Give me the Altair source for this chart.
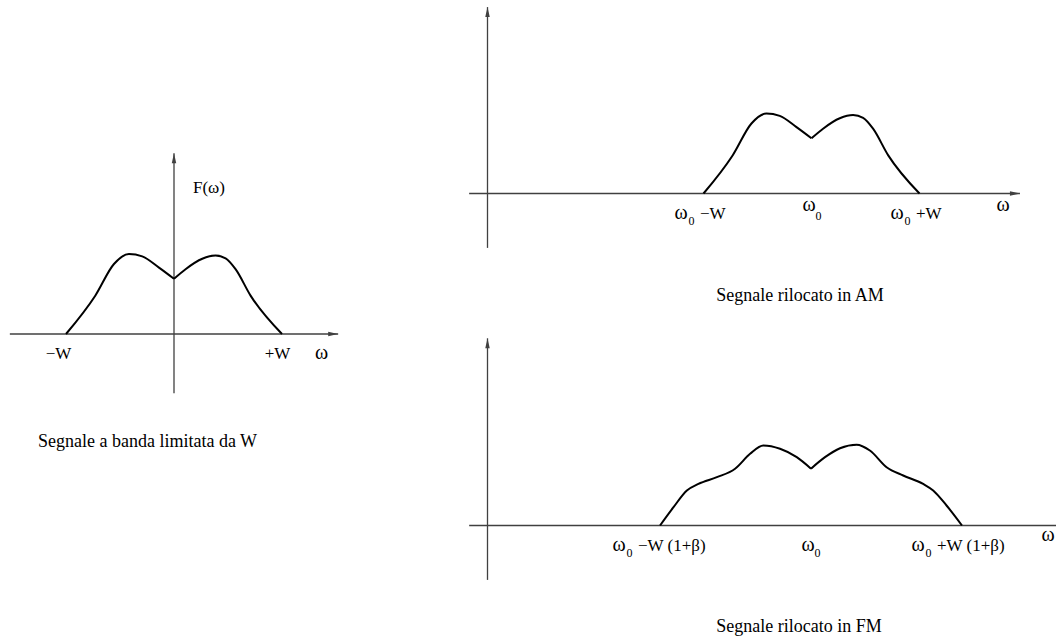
import altair as alt
import pandas as pd

# ---------------- data ----------------
# Baseband spectrum F(w): w in units of W, amplitude normalised to the peak
BASE_W = [-1.0, -0.729, -0.556, -0.417, -0.294, -0.139, 0.0,
          0.107, 0.262, 0.385, 0.478, 0.57, 0.709, 1.0]
BASE_A = [0.0, 0.479, 0.875, 1.0, 0.97, 0.83, 0.69,
          0.81, 0.94, 0.98, 0.945, 0.81, 0.48, 0.0]

# FM spectrum around w0 (offset from w0 in units of W)
BETA = 0.4
FM_W = [-1.4, -1.275, -1.151, -1.044, -0.873, -0.704, -0.565, -0.442, -0.287, -0.132, 0.0,
        0.13, 0.269, 0.423, 0.546, 0.701, 0.855, 1.04, 1.133, 1.257, 1.4]
FM_A = [0.0, 0.229, 0.4375, 0.52, 0.604, 0.71, 0.896, 1.0, 0.959, 0.854, 0.71,
        0.854, 0.966, 1.01, 0.9375, 0.729, 0.625, 0.52, 0.4375, 0.25, 0.0]

OMEGA0 = 3.0  # carrier, in units of W

# axis extents (data units): [x_min, x_max], [y_min, y_max]
LEFT_AXES = ([-1.52, 1.52], [-0.74, 2.26])
AM_AXES = ([-0.17, 4.93], [-0.68, 2.33])
FM_AXES = ([-0.17, 5.7], [-0.68, 2.34])

# texts
LEFT_TICKS = ["\u2212W", "+W"]
AM_TICKS = ["\u2212W", "+W"]
FM_TICKS = ["\u2212W (1+\u03b2)", "+W (1+\u03b2)"]
OMEGA = "\u03c9"
SUB0 = "0"
F_LABEL = "F(\u03c9)"
CAPTIONS = ["Segnale a banda limitata da W", "Segnale rilocato in AM", "Segnale rilocato in FM"]

# ---------------- helpers ----------------
FONT = "Liberation Serif"
AX_COLOR = "#404040"
LBL = 17
OMG = 20
SUB = 12
CAP = 18

UP = "M0,0 L0.45,2 L-0.45,2 Z"
RIGHT = "M0,0 L-2,0.45 L-2,-0.45 Z"


def enc(xs, ys, xf="x", yf="y"):
    return dict(x=alt.X(f"{xf}:Q", scale=xs, axis=None),
                y=alt.Y(f"{yf}:Q", scale=ys, axis=None))


def axes(xs, ys, ext, right_arrow=True):
    (x0, x1), (y0, y1) = ext
    h = alt.Chart(pd.DataFrame({"x": [x0], "x2": [x1], "y": [0.0]})).mark_rule(
        color=AX_COLOR, strokeWidth=1.3).encode(x2="x2:Q", **enc(xs, ys))
    v = alt.Chart(pd.DataFrame({"x": [0.0], "y": [y0], "y2": [y1]})).mark_rule(
        color=AX_COLOR, strokeWidth=1.3).encode(y2="y2:Q", **enc(xs, ys))
    up = alt.Chart(pd.DataFrame({"x": [0.0], "y": [y1]})).mark_point(
        shape=UP, filled=True, size=100, color=AX_COLOR, opacity=1, strokeWidth=0).encode(**enc(xs, ys))
    layers = [h, v, up]
    if right_arrow:
        rt = alt.Chart(pd.DataFrame({"x": [x1], "y": [0.0]})).mark_point(
            shape=RIGHT, filled=True, size=100, color=AX_COLOR, opacity=1, strokeWidth=0).encode(**enc(xs, ys))
        layers.append(rt)
    return layers


def curve(xs, ys, w, a, shift=0.0):
    mid = [i for i, v in enumerate(w) if v == 0.0][0]
    rows = []
    for i in range(len(w)):
        if i <= mid:
            rows.append({"x": w[i] + shift, "y": a[i], "half": "L"})
        if i >= mid:
            rows.append({"x": w[i] + shift, "y": a[i], "half": "R"})
    df = pd.DataFrame(rows)
    return alt.Chart(df).mark_line(color="black", strokeWidth=2, interpolate="monotone").encode(
        detail="half:N", **enc(xs, ys))


def label(xs, ys, xv, yv, text, dx, dy, size=LBL, align="center"):
    df = pd.DataFrame({"x": [xv], "y": [yv], "t": [text]})
    return alt.Chart(df).mark_text(font=FONT, fontSize=size, align=align, baseline="alphabetic",
                                   dx=dx, dy=dy, color="black").encode(text="t:N", **enc(xs, ys))


layers = []

# ---------------- left panel: baseband ----------------
lx = alt.Scale(domain=[-1, 1], range=[66, 282])
ly = alt.Scale(domain=[0, 1], range=[334, 254])
layers += axes(lx, ly, LEFT_AXES)
layers.append(curve(lx, ly, BASE_W, BASE_A))
layers += [
    label(lx, ly, -1, 0, LEFT_TICKS[0], -7.5, 24.5),
    label(lx, ly, 1, 0, LEFT_TICKS[1], -4.5, 24.5),
    label(lx, ly, 1, 0, OMEGA, 39.5, 24.5, size=OMG),
    label(lx, ly, 0, 0, F_LABEL, 19, -141.5, align="left"),
    label(lx, ly, 0, 0, CAPTIONS[0], -26.5, 113, size=CAP),
]

# ---------------- top right: AM ----------------
ax = alt.Scale(domain=[0, 3], range=[487.5, 811.5])
ay = alt.Scale(domain=[0, 1], range=[193.5, 113.5])
layers += axes(ax, ay, AM_AXES)
layers.append(curve(ax, ay, BASE_W, BASE_A, shift=OMEGA0))
lo, hi = OMEGA0 - 1, OMEGA0 + 1
layers += [
    label(ax, ay, lo, 0, OMEGA, -22.5, 25, size=OMG),
    label(ax, ay, lo, 0, SUB0, -12, 31.5, size=SUB),
    label(ax, ay, lo, 0, AM_TICKS[0], -3.5, 25, align="left"),
    label(ax, ay, OMEGA0, 0, OMEGA, -2.5, 17.5, size=OMG),
    label(ax, ay, OMEGA0, 0, SUB0, 7, 26.5, size=SUB),
    label(ax, ay, hi, 0, OMEGA, -22.5, 25, size=OMG),
    label(ax, ay, hi, 0, SUB0, -12, 31.5, size=SUB),
    label(ax, ay, hi, 0, AM_TICKS[1], -3.5, 25, align="left"),
    label(ax, ay, hi, 0, OMEGA, 83.5, 17.5, size=OMG),
    label(ax, ay, OMEGA0, 0, CAPTIONS[1], -11.5, 107.5, size=CAP),
]

# ---------------- bottom right: FM ----------------
fx = alt.Scale(domain=[0, 3], range=[487.5, 811])
fy = alt.Scale(domain=[0, 1], range=[525.5, 445.5])
layers += axes(fx, fy, FM_AXES, right_arrow=False)
layers.append(curve(fx, fy, FM_W, FM_A, shift=OMEGA0))
flo, fhi = OMEGA0 - (1 + BETA), OMEGA0 + (1 + BETA)
layers += [
    label(fx, fy, flo, 0, OMEGA, -41, 25, size=OMG),
    label(fx, fy, flo, 0, SUB0, -30.5, 31.5, size=SUB),
    label(fx, fy, flo, 0, FM_TICKS[0], -22, 25, align="left"),
    label(fx, fy, OMEGA0, 0, OMEGA, -3, 25, size=OMG),
    label(fx, fy, OMEGA0, 0, SUB0, 6.5, 31.5, size=SUB),
    label(fx, fy, fhi, 0, OMEGA, -44, 25, size=OMG),
    label(fx, fy, fhi, 0, SUB0, -33.5, 31.5, size=SUB),
    label(fx, fy, fhi, 0, FM_TICKS[1], -25, 25, align="left"),
    label(fx, fy, fhi, 0, OMEGA, 86, 15.5, size=OMG),
    label(fx, fy, OMEGA0, 0, CAPTIONS[2], -12, 106.5, size=CAP),
]

chart = alt.layer(*layers).resolve_scale(x="independent", y="independent").properties(
    width=1056, height=639, padding=0, autosize=alt.AutoSizeParams(type="none"),
    background="white",
).configure_view(stroke=None)

chart.save("out.html", embed_options={"renderer": "svg", "actions": False})
